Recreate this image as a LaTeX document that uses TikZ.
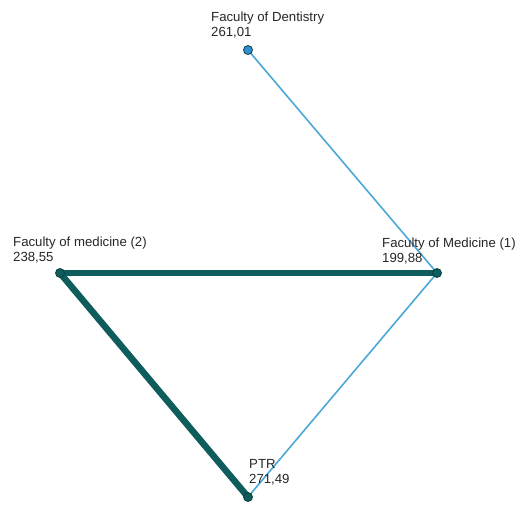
\documentclass[tikz,border=0pt]{standalone}
\usepackage{fontspec}
\setmainfont{Liberation Sans}
\usetikzlibrary{calc, backgrounds}

\definecolor{linkblue}{HTML}{4AA8D8}
\definecolor{linkteal}{HTML}{0E5C5C}
\definecolor{dotblue}{HTML}{2F8FD4}

\begin{document}
\begin{tikzpicture}[x=1pt, y=-1pt,
	dot/.style={circle, draw=linkteal!70!black, fill=linkteal, line width=0.8pt, inner sep=0pt, minimum size=9pt},
	tag/.style={anchor=south west, inner sep=0pt, align=left, text=black!85,
		font=\fontsize{13.2}{14.5}\selectfont},
	weak/.style={draw=linkblue, line width=1.6pt},
	strong/.style={draw=linkteal, line width=6.5pt, line cap=round},
	]
	\useasboundingbox (0,0) rectangle (528,504);
	% faculties
	\node[dot, fill=dotblue] (dent) at (248,50) {};
	\node[dot] (med1) at (437,273) {};
	\node[dot] (med2) at (60,273) {};
	\node[dot] (ptr) at (248,497) {};
	% names and values
	\node[tag] (dentlab) at ($(dent)+(-37,-12)$) {Faculty of Dentistry\\261,01};
	\node[tag] (med2lab) at ($(med2)+(-47,-10)$) {Faculty of medicine (2)\\238,55};
	\node[tag] (med1lab) at ($(med1)+(-55,-9)$) {Faculty of Medicine (1)\\199,88};
	\node[tag] (ptrlab) at ($(ptr)+(1,-12)$) {PTR\\271,49};
	% links
	\begin{scope}[on background layer]
		\draw[weak] (dent.center) -- (med1.center);
		\draw[weak] (med1.center) -- (ptr.center);
		\draw[strong] (med2.center) -- (med1.center);
		\draw[strong] (med2.center) -- (ptr.center);
	\end{scope}
\end{tikzpicture}
\end{document}
